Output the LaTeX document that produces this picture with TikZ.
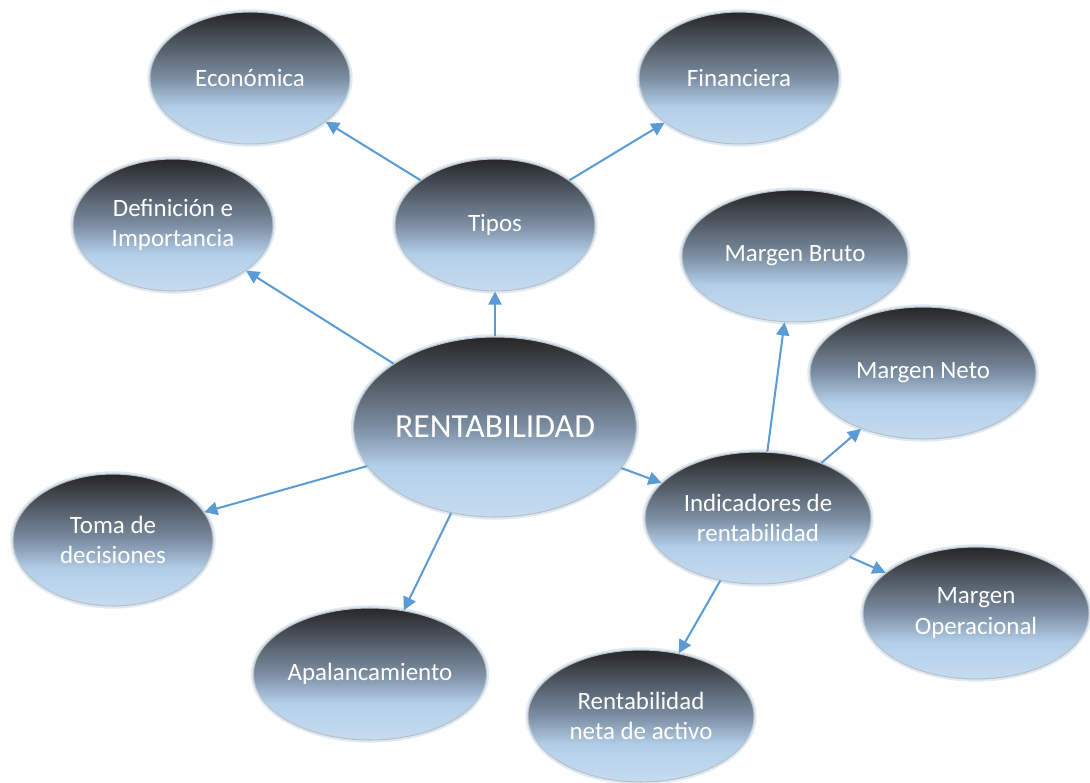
\documentclass[tikz,border=0pt]{standalone}
\usepackage{fontspec}
\setmainfont{Carlito}
\usetikzlibrary{shapes.geometric,arrows.meta}
\definecolor{dk}{HTML}{262727}
\definecolor{midc}{HTML}{7C8EA2}
\definecolor{lbone}{HTML}{B3CFE9}
\definecolor{lbtwo}{HTML}{C5DCF0}
\definecolor{glowc}{HTML}{DCE9F6}
\definecolor{edgec}{HTML}{BFBFBF}
\definecolor{arrc}{HTML}{5B9BD5}
\pgfdeclareverticalshading{bubbleshade}{100bp}{color(0bp)=(lbtwo); color(25bp)=(lbtwo); color(39bp)=(lbone); color(50bp)=(midc); color(75bp)=(dk); color(100bp)=(dk)}
\tikzset{
  bubble/.style={ellipse, inner sep=0pt, shade, shading=bubbleshade, draw=edgec, line width=0.6pt,
    preaction={draw=glowc, line width=3pt},
    text=white, align=center, font=\fontsize{14.2}{17.3}\selectfont},
  smallb/.style={bubble, minimum width=4cm, minimum height=2.64cm},
  medb/.style={bubble, minimum width=4.52cm, minimum height=2.64cm},
  bigb/.style={bubble, minimum width=5.44cm, minimum height=3.6cm, font=\fontsize{19.2}{23}\selectfont},
  link/.style={draw=arrc, line width=1.15pt, -{Triangle[length=7.5pt,width=7.5pt]}}
}
\begin{document}
\begin{tikzpicture}[x=0.02cm,y=0.02cm]
\useasboundingbox (0,0) rectangle (1090,782);
\node[smallb] (econ) at (250,704) {Económica};
\node[smallb] (fin) at (739,704) {Financiera};
\node[smallb] (defi) at (173,557) {Definición e\\Importancia};
\node[smallb] (tipos) at (495,557) {Tipos};
\node[medb] (mb) at (795,526) {Margen Bruto};
\node[medb] (mn) at (923,409) {Margen Neto};
\node[bigb] (rent) at (495,355) {RENTABILIDAD};
\node[medb] (ind) at (758,264) {Indicadores de\\rentabilidad};
\node[smallb] (toma) at (113,242) {Toma de\\decisiones};
\node[medb] (mo) at (976,169) {Margen\\Operacional};
\node[medb] (apal) at (370,108) {Apalancamiento};
\node[medb] (rna) at (641,66) {Rentabilidad\\neta de activo};
\draw[link] (rent.90) -- (tipos.270);
\draw[link] (tipos.149) -- (econ.-30);
\draw[link] (tipos.31) -- (fin.211);
\draw[link] (rent.148) -- (defi.-32);
\draw[link] (rent.197) -- (toma.17);
\draw[link] (rent.243) -- (apal.62);
\draw[link] (rent.-18) -- (ind.160);
\draw[link] (ind.82) -- (mb.261);
\draw[link] (ind.41) -- (mn.222);
\draw[link] (ind.-23) -- (mo.156);
\draw[link] (ind.239) -- (rna.59);
\end{tikzpicture}
\end{document}
